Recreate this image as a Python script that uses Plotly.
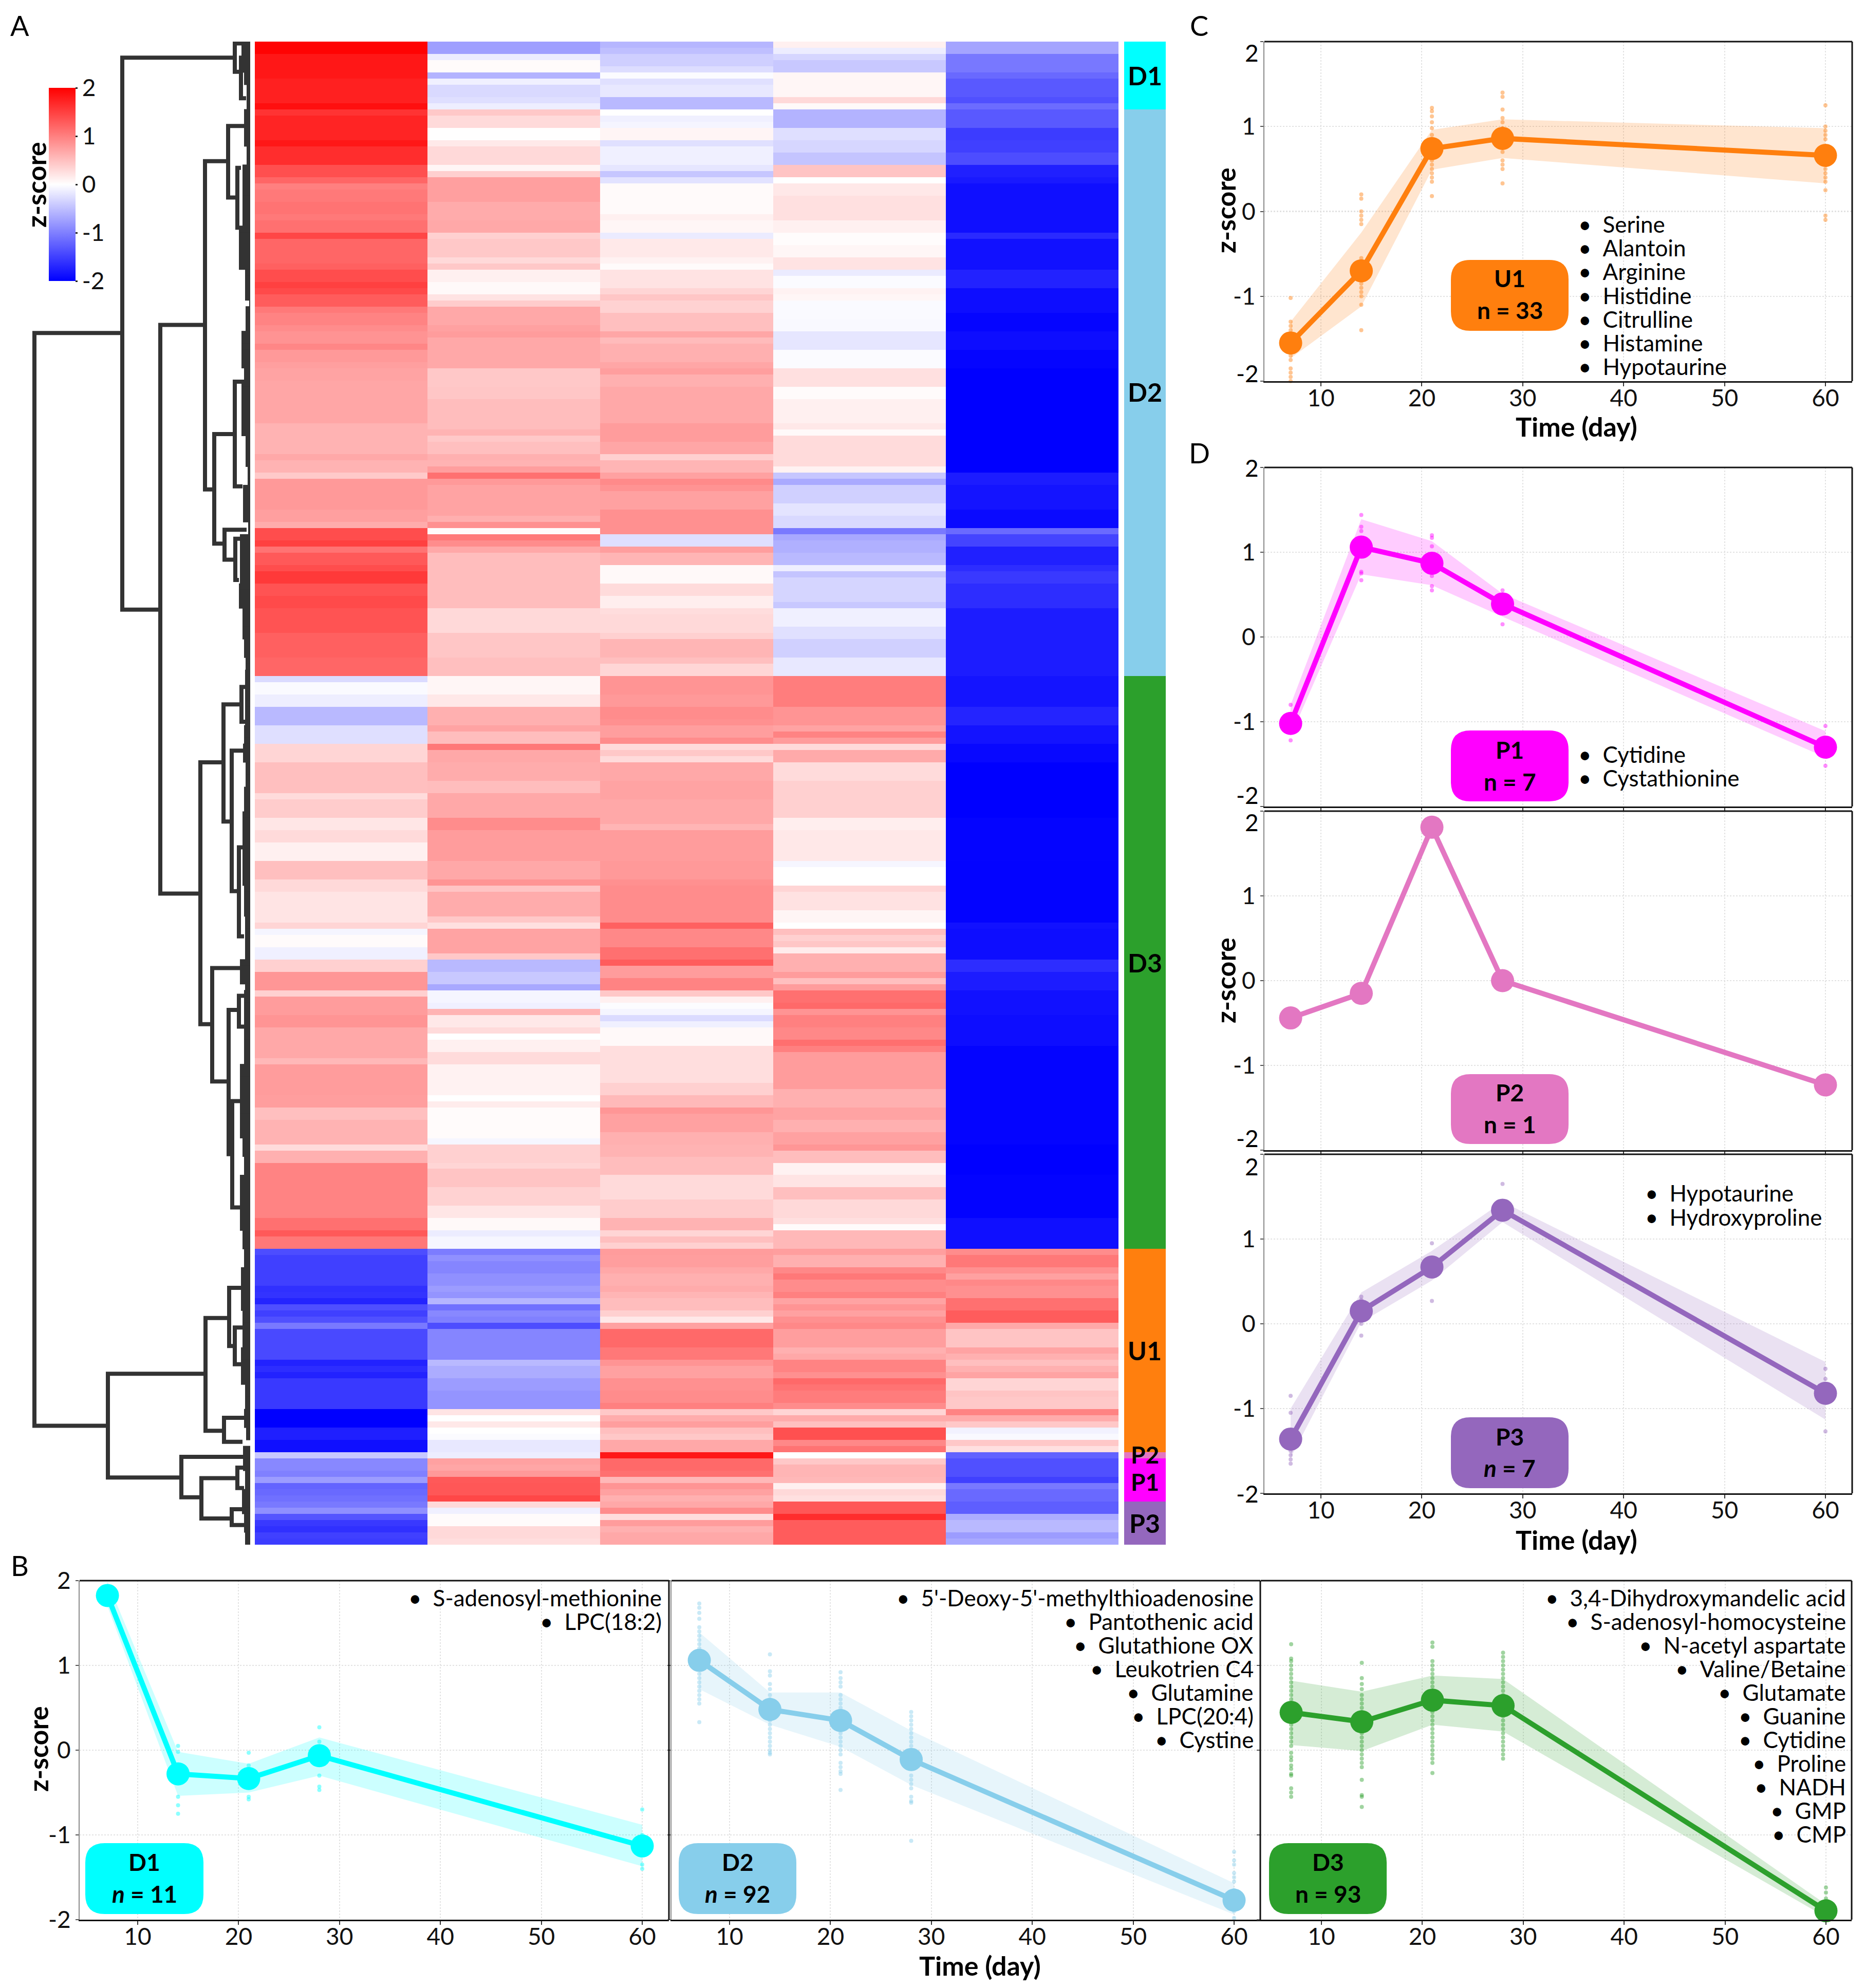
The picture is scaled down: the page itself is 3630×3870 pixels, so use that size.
import plotly.graph_objects as go

W, H = 3630, 3870
FONT = "Lato"

# ---------- heatmap values: runs of (number of rows, z-score), per cluster and time point ----------
CLUSTER_NAMES = ["D1", "D2", "D3", "U1", "P2", "P1", "P3"]
CLUSTER_SIZES = [11, 92, 93, 33, 1, 7, 7]
CLUSTER_COLORS = ["#00FFFF", "#87CEEB", "#2CA02C", "#FF7F0E", "#E377C2", "#FF00FF", "#9467BD"]

d7_D1 = [(2,1.98),(4,1.82),(4,1.75),(1,1.88)]
d14_D1 = [(2,-.75),(1,-.15),(2,.03),(1,-.6),(1,-.12),(2,-.3),(1,-.25),(1,-.13)]
d21_D1 = [(1,-.57),(1,-.5),(2,-.38),(1,-.27),(1,-.03),(1,-.24),(2,-.18),(2,-.55)]
d28_D1 = [(1,.12),(1,-.14),(1,-.32),(2,-.43),(4,.07),(1,.3),(1,.05)]
d60_D1 = [(2,-.71),(3,-1.06),(1,-1.18),(3,-1.3),(1,-1.37),(1,-1.15)]

d7_D2 = [(1,1.6),(4,1.72),(1,1.82),(3,1.65),(2,1.38),(1,1.2),(1,1.0),(2,1.05),(2,1.1),(1,1.05),(2,1.12),(1,1.45),(3,1.2),(1,1.2),(1,1.25),(2,1.4),(1,1.5),(1,1.42),(2,1.28),(1,1.05),(2,.97),(1,.9),(2,.85),(1,.95),(2,.8),(1,.75),(2,.72),(7,.7),(5,.6),(1,.68),(2,.6),(1,.42),(5,.8),(2,.75),(1,.65),(2,1.4),(1,1.5),(1,1.1),(2,1.3),(1,1.4),(2,1.55),(2,1.35),(2,1.42),(4,1.35),(4,1.25),(3,1.2)]
d14_D2 = [(1,.43),(2,.29),(2,.01),(1,.17),(3,.3),(1,.08),(1,.38),(4,.75),(3,.66),(2,.68),(1,.37),(3,.43),(1,.3),(1,.43),(2,.12),(2,.05),(1,.22),(1,.4),(3,.68),(1,.74),(1,.78),(5,.68),(3,.43),(2,.45),(5,.52),(1,.6),(1,.43),(2,.5),(1,.62),(1,.6),(1,.76),(1,1.12),(1,.8),(5,.72),(1,.63),(1,.87),(1,.03),(1,1.05),(1,.9),(1,.68),(9,.52),(4,.3),(4,.45),(3,.5)]
d21_D2 = [(1,0),(1,-.12),(1,-.08),(2,.08),(1,-.24),(3,-.12),(1,-.2),(1,-.45),(1,-.23),(5,.04),(1,.12),(2,.07),(1,-.16),(3,.17),(1,.1),(1,.03),(3,.22),(1,.33),(1,.45),(2,.35),(3,.5),(1,.7),(1,.53),(3,.62),(1,.7),(1,.76),(2,.62),(6,.68),(3,.78),(2,.7),(1,.37),(2,.58),(1,.74),(1,.92),(1,.85),(3,.74),(1,.87),(3,.87),(2,-.25),(1,.76),(2,.58),(3,.05),(2,.28),(2,.13),(1,.27),(3,.3),(1,.37),(3,.58),(1,.5),(2,.32)]
d28_D2 = [(3,-.6),(2,-.25),(2,-.32),(2,-.46),(2,.46),(1,0),(2,.18),(4,.24),(2,.12),(2,.02),(2,.07),(2,.22),(1,-.16),(2,-.03),(1,.1),(1,.07),(3,-.04),(2,-.05),(3,-.2),(3,-.03),(3,.24),(2,.03),(4,.12),(1,.18),(1,.05),(5,.28),(1,.1),(1,-.45),(1,-.67),(3,-.37),(2,-.21),(2,-.3),(1,-1.05),(1,-.68),(2,-.62),(2,-.55),(1,-.13),(1,-.46),(4,-.33),(1,-.43),(3,-.12),(2,-.24),(3,-.37),(3,-.18)]
d60_D2 = [(3,-1.3),(2,-1.53),(2,-1.5),(2,-1.4),(2,-1.75),(1,-1.8),(8,-1.88),(1,-1.67),(5,-1.87),(3,-1.73),(4,-1.9),(3,-1.96),(3,-1.9),(3,-1.96),(17,-2),(2,-1.78),(4,-1.84),(3,-1.92),(1,-1.17),(2,-1.47),(3,-1.75),(1,-1.65),(2,-1.55),(4,-1.65),(11,-1.78)]

d7_D3 = [(1,-.28),(2,-.04),(2,-.13),(3,-.55),(3,-.25),(3,.33),(5,.5),(1,.28),(3,.4),(2,.2),(2,.29),(3,.12),(3,.5),(2,.3),(5,.21),(1,.33),(1,-.08),(2,.03),(2,-.12),(2,.37),(3,.82),(1,.37),(3,.78),(2,.84),(5,.68),(1,.56),(5,.78),(2,.76),(2,.5),(4,.6),(1,.28),(2,.62),(9,.97),(2,1.12),(1,1.3),(2,1.06)]
d14_D3 = [(3,.07),(2,.18),(3,.62),(1,.72),(2,.52),(1,1.06),(2,.68),(3,.65),(2,.52),(4,.68),(2,.9),(5,.78),(3,.68),(1,.84),(1,.46),(4,.65),(1,.43),(1,.24),(4,.72),(1,.43),(2,-.55),(2,-.43),(1,-.68),(2,-.08),(1,-.12),(1,.6),(2,.18),(1,.28),(1,0),(2,.12),(2,.28),(5,.1),(1,0),(1,.15),(5,.03),(1,-.07),(3,.37),(1,.33),(3,.46),(3,.35),(2,.2),(2,.05),(1,-.15),(2,-.07)]
d21_D3 = [(3,.84),(2,.8),(2,.9),(1,.87),(2,.76),(1,.9),(1,.29),(1,.43),(1,.28),(3,.68),(3,.72),(4,.68),(1,.58),(5,.78),(3,.8),(1,.87),(6,.9),(1,1.25),(3,.93),(2,1.12),(1,1.28),(2,.78),(2,.97),(1,.43),(1,.12),(1,-.02),(1,-.08),(1,-.28),(1,-.12),(3,.05),(6,.26),(2,.37),(2,.55),(1,.82),(3,.74),(2,.62),(2,.6),(3,.52),(4,.29),(3,.4),(2,.6),(1,.33),(1,.5),(1,.37)]
d28_D3 = [(5,1.02),(3,.84),(1,.72),(1,.97),(1,.78),(1,.29),(2,.67),(3,.28),(6,.37),(2,.13),(5,.18),(1,-.07),(3,0),(1,.33),(3,.23),(2,.08),(1,0),(1,.5),(1,.37),(1,.45),(1,.15),(3,.62),(1,.78),(1,.5),(1,.78),(2,1.12),(1,1.18),(1,.84),(2,1.0),(2,.93),(1,1.13),(1,1.0),(6,.78),(3,.62),(2,.72),(2,.62),(2,.74),(1,.82),(2,.52),(2,.1),(2,.21),(2,.5),(3,.3),(1,.25),(1,.03),(3,.56)]
d60_D3 = [(5,-1.84),(3,-1.72),(3,-1.85),(3,-1.94),(9,-2),(7,-1.97),(10,-1.98),(1,-1.87),(5,-1.9),(2,-1.65),(3,-1.78),(4,-1.87),(5,-1.9),(16,-1.97),(5,-2),(7,-1.98),(5,-1.88)]

d7_U1 = [(1,-1.4),(2,-1.5),(3,-1.5),(1,-1.62),(1,-1.6),(1,-1.72),(1,-1.38),(1,-1.5),(1,-1.37),(1,-1.05),(5,-1.43),(1,-1.73),(1,-1.65),(1,-1.73),(5,-1.55),(3,-2),(2,-1.76),(2,-1.88)]
d14_U1 = [(1,-1.03),(1,-.87),(1,-.96),(1,-.96),(2,-.87),(1,-.78),(1,-.84),(1,-.58),(1,-1.12),(1,-.93),(1,-1),(1,-1.4),(5,-.96),(1,-.55),(2,-.65),(2,-.78),(3,-.84),(1,.21),(1,0),(1,.18),(1,0),(1,-.03),(2,-.18)]
d21_U1 = [(1,.78),(2,.76),(1,.68),(2,.62),(1,.66),(1,.58),(2,.52),(1,.37),(1,.18),(1,.74),(3,1.18),(2,1.06),(1,.84),(2,.74),(2,.87),(2,.9),(1,1),(1,.43),(1,.65),(1,.76),(1,.5),(1,.43),(2,.68)]
d28_U1 = [(1,.76),(2,.62),(1,.93),(1,1.06),(2,.9),(1,1),(1,.72),(1,.84),(1,.74),(1,.87),(1,.93),(3,.76),(1,.62),(1,.68),(2,.97),(1,.87),(1,1.18),(1,1.1),(2,1.03),(1,.9),(1,.33),(1,.66),(1,.5),(2,1.37),(1,.93),(1,1.1)]
d60_U1 = [(1,.9),(2,1.06),(1,.87),(1,.74),(1,.93),(2,.87),(2,1.12),(2,1.28),(1,.68),(3,.46),(1,.72),(1,.62),(1,.5),(1,.62),(1,.72),(2,.33),(1,.46),(2,.43),(1,.97),(1,.66),(1,.43),(1,-.1),(1,-.05),(1,.43),(1,.24)]

d7_P2, d14_P2, d21_P2, d28_P2, d60_P2 = [(1,-.43)], [(1,-.14)], [(1,1.81)], [(1,0)], [(1,-1.23)]

d7_P1 = [(2,-.93),(1,-1),(1,-.78),(1,-1.22),(1,-1.18),(1,-1.12)]
d14_P1 = [(1,.74),(1,.7),(1,.8),(1,1.3),(2,1.32),(1,1.44)]
d21_P1 = [(2,1.18),(1,1.12),(1,.56),(1,.84),(1,.74),(1,.62)]
d28_P1 = [(1,.43),(2,.58),(1,.56),(1,.12),(1,.3),(1,.24)]
d60_P1 = [(3,-1.37),(1,-1.5),(1,-1.05),(2,-1.18)]

d7_P3 = [(1,-1.05),(1,-.87),(1,-1.33),(1,-1.55),(1,-1.62),(1,-1.5),(1,-1.53)]
d14_P3 = [(1,.3),(1,-.12),(2,.03),(2,.3),(1,.26)]
d21_P3 = [(1,.68),(1,.9),(1,.27),(1,.78),(1,.62),(2,.68)]
d28_P3 = [(2,1.32),(1,1.65),(4,1.28)]
d60_P3 = [(2,-1.26),(1,-.65),(2,-.55),(1,-.78),(1,-.68)]

# ---------- dendrogram: (height, row of child a, height of a, row of child b, height of b) ----------
MERGES = [
 (420,47.3,249,224.7,277),(249,2.6,30,92.2,175),(175,46,88,138.3,97),(88,19.4,43,72.7,70),
 (43,13.7,12,25.3,25),(25,20.5,18,30.2,15),(70,63.7,30,81.5,50),(30,55.2,12,72.2,15),
 (50,79.25,7,84.1,29),(29,80.7,17,87.4,22),(97,117,52,159.5,74),(52,107.6,17,126.6,36),
 (17,104.75,10,110.4,10),(36,115.1,10,137.9,22),(22,130.8,15,145.25,12),(74,150.4,14,168.8,42),
 (42,157.2,22,180.6,35),(22,154.9,10,159.9,12),(35,172,17,189.25,17),(277,216.25,87,233.1,134),
 (87,207.2,41,225.5,51),(41,202.3,15,211.75,30),(30,208.75,9,214.7,15),(51,223.4,12,227.3,15),
 (134,229.75,0,236.3,95),(95,233.2,25,239.75,36),(25,231.5,10,234.8,12),(36,238.25,10,240.8,12),
 (30,.3,6,4.9,18),(18,2.6,8,9.2,8),
]
# height of the branch reaching each leaf row: runs of (rows, height)
LEAF_RUNS = [(5,17),(2,12),(4,7),(6,12),(3,7),(4,15),(6,15),(7,22),(5,10),(1,2),(4,9),(6,17),(2,12),(9,17),(5,9),(3,5),(6,14),(2,4),(8,20),(4,22),(5,15),(3,12),(2,9),(9,10),(3,12),(3,14),(4,9),(4,12),(7,15),(5,15),(5,12),(7,10),(4,20),(1,10),(3,12),(6,12),(3,12),(12,20),(3,15),(3,12),(9,20),(3,15),(3,12),(2,18),(5,18),(6,15),(6,18),(4,10),(3,12),(2,8),(1,0),(4,14),(3,10),(4,16),(3,12),(4,10)]

# ---------- line panels ----------
DAYS = [7, 14, 21, 28, 60]
TICKS_X = [10, 20, 30, 40, 50, 60]
TICKS_Y = [-2, -1, 0, 1, 2]

mean_D1 = [1.825, -.28, -.335, -.065, -1.13]
up_D1 = [1.99, -.02, -.16, .15, -.88]
lo_D1 = [1.7, -.54, -.5, -.3, -1.37]
pts_D1 = [[1.82], [.05,-.02,-.55,-.65,-.75], [-.03,-.18,-.58,-.55], [.27,.1,-.3,-.43,-.47], [-.7,-1.0,-1.1,-1.2,-1.35,-1.4]]

mean_D2 = [1.06, .48, .35, -.11, -1.77]
up_D2 = [1.39, .68, .68, .23, -1.57]
lo_D2 = [.72, .30, .04, -.41, -1.94]
pts_D2 = [[1.73,1.68,1.62,1.55,1.45,1.4,1.35,1.3,1.25,1.2,1.15,1.1,1.05,1.0,.95,.9,.85,.8,.75,.7,.65,.6,.55,.33],
          [1.13,.93,.88,.78,.72,.65,.6,.55,.5,.4,.35,.3,.25,.2,.15,.1,.05,0,-.03,-.05],
          [.92,.85,.8,.75,.65,.6,.55,.5,.45,.4,.3,.25,.2,.15,.1,.05,0,-.05,-.15,-.2,-.25,-.28,-.47],
          [.45,.4,.35,.3,.25,.2,.15,.1,.05,0,-.05,-.1,-.2,-.3,-.35,-.4,-.45,-.55,-.6,-.62,-1.07],
          [-1.2,-1.3,-1.35,-1.45,-1.5,-1.55,-1.65,-1.7,-1.85,-1.9,-1.98]]

mean_D3 = [.445, .335, .59, .525, -1.895]
up_D3 = [.82, .69, .88, .84, -1.82]
lo_D3 = [.06, -.01, .3, .22, -1.97]
pts_D3 = [[1.25,1.08,1.05,1.0,.95,.9,.85,.8,.75,.7,.65,.6,.55,.5,.45,.4,.35,.3,.25,.2,.15,.1,.05,-.03,-.08,-.12,-.18,-.22,-.28,-.3,-.45,-.5,-.55],
          [1.03,.85,.78,.72,.65,.6,.55,.5,.45,.4,.35,.3,.25,.2,.15,.1,.05,0,-.05,-.1,-.15,-.2,-.35,-.53,-.55,-.67],
          [1.27,1.22,1.05,1.0,.95,.9,.85,.8,.75,.7,.65,.6,.55,.5,.45,.4,.35,.3,.25,.2,.15,.1,.05,0,-.05,-.1,-.15,-.27],
          [1.15,1.1,1.05,1.0,.95,.9,.85,.8,.75,.7,.65,.6,.55,.5,.45,.4,.35,.3,.25,.2,.15,.1,.05,0,-.05,-.1],
          [-1.62,-1.68,-1.75,-1.8,-1.85,-1.97]]

mean_U1 = [-1.55, -.70, .74, .86, .66]
up_U1 = [-1.3, -.25, .96, 1.085, .98]
lo_U1 = [-1.73, -1.12, .49, .63, .33]
pts_U1 = [[-1.02,-1.3,-1.35,-1.4,-1.45,-1.5,-1.6,-1.65,-1.7,-1.75,-1.85,-1.9,-1.95,-2.0],
          [.2,.15,0,-.05,-.1,-.15,-.55,-.65,-.75,-.8,-.85,-.9,-.95,-1.0,-1.1,-1.4],
          [1.22,1.18,1.12,1.05,.98,.9,.85,.8,.7,.65,.6,.55,.5,.45,.4,.35,.18],
          [1.4,1.35,1.2,1.1,1.05,.98,.9,.8,.75,.7,.6,.55,.5,.33],
          [1.25,1.0,.95,.9,.85,.75,.6,.55,.5,.45,.4,.35,.25,-.05,-.1]]

mean_P1 = [-1.02, 1.06, .87, .39, -1.30]
up_P1 = [-.8, 1.39, 1.13, .51, -1.11]
lo_P1 = [-1.17, .74, .61, .24, -1.42]
pts_P1 = [[-.8,-1.22], [1.44,1.3,1.25,.77,.75,.67], [1.2,1.17,1.07,.72,.6,.55], [.55,.15], [-1.05,-1.52]]

mean_P2 = [-.44, -.15, 1.81, 0, -1.23]

mean_P3 = [-1.36, .15, .67, 1.34, -.82]
up_P3 = [-1.0, .37, .86, 1.44, -.45]
lo_P3 = [-1.58, .02, .51, 1.2, -1.13]
pts_P3 = [[-.85,-1.05,-1.5,-1.55,-1.6,-1.65], [.32,.28,0,-.14], [.95,.27], [1.65], [-.53,-.65,-1.27]]

names_D1 = ["S-adenosyl-methionine", "LPC(18:2)"]
names_D2 = ["5'-Deoxy-5'-methylthioadenosine", "Pantothenic acid", "Glutathione OX", "Leukotrien C4", "Glutamine", "LPC(20:4)", "Cystine"]
names_D3 = ["3,4-Dihydroxymandelic acid", "S-adenosyl-homocysteine", "N-acetyl aspartate", "Valine/Betaine", "Glutamate", "Guanine", "Cytidine", "Proline", "NADH", "GMP", "CMP"]
names_U1 = ["Serine", "Alantoin", "Arginine", "Histidine", "Citrulline", "Histamine", "Hypotaurine"]
names_P1 = ["Cytidine", "Cystathionine"]
names_P3 = ["Hypotaurine", "Hydroxyproline"]


def expand(runs, n):
    out = []
    for count, val in runs:
        out += [val] * count
    out = out[:n]
    return out + [out[-1]] * (n - len(out))


def hexa(c, a):
    c = c.lstrip("#")
    return f"rgba({int(c[:2],16)},{int(c[2:4],16)},{int(c[4:],16)},{a})"


def dx(a, b):
    return [a / W, b / W]


def dy(top, bottom):
    return [1 - bottom / H, 1 - top / H]


def px(x):
    return x / W


def py(y):
    return 1 - y / H


g = globals()
DAY_KEYS = ["d7", "d14", "d21", "d28", "d60"]
columns = []
for d in DAY_KEYS:
    col = []
    for name, size in zip(CLUSTER_NAMES, CLUSTER_SIZES):
        col += expand(g[f"{d}_{name}"], size)
    columns.append(col)
n_rows = sum(CLUSTER_SIZES)
z = [[columns[c][r] for c in range(5)] for r in range(n_rows)]
rows = [r + .5 for r in range(n_rows)]
cluster_idx = []
for i, size in enumerate(CLUSTER_SIZES):
    cluster_idx += [i] * size

fig = go.Figure()
shapes, annotations = [], []
layout = {}

TOP, BOT = 81, 3007
DENDRO_LINE = "#333333"

# dendrogram
xs, ys = [], []
for h, ra, ha, rb, hb in MERGES:
    xs += [ha, h, h, hb, None]
    ys += [ra, ra, rb, rb, None]
fig.add_trace(go.Scatter(x=xs, y=ys, mode="lines", line=dict(color=DENDRO_LINE, width=8), hoverinfo="skip",
                         showlegend=False, xaxis="x", yaxis="y"))
lx, ly = [], []
for r, h in zip(rows, expand(LEAF_RUNS, n_rows)):
    lx += [h, 0, None]
    ly += [r, r, None]
fig.add_trace(go.Scatter(x=lx, y=ly, mode="lines", line=dict(color=DENDRO_LINE, width=13), hoverinfo="skip",
                         showlegend=False, xaxis="x", yaxis="y"))
blank = dict(visible=False, fixedrange=True)
layout["xaxis"] = dict(domain=dx(60, 490), range=[427, -3], anchor="y", **blank)
layout["yaxis"] = dict(domain=dy(TOP, BOT), range=[n_rows, 0], anchor="x", **blank)

# heatmap
fig.add_trace(go.Heatmap(
    z=z, x=list(range(5)), y=rows, zmin=-2, zmax=2, zsmooth=False,
    colorscale=[[0, "#0000FF"], [.5, "#FFFFFF"], [1, "#FF0000"]], xaxis="x2", yaxis="y2",
    colorbar=dict(x=px(95), xanchor="left", xpad=0, ypad=0, y=py(359), yanchor="middle", thickness=52,
                  thicknessmode="pixels", len=376 / H, lenmode="fraction", outlinewidth=0, ticks="outside",
                  ticklen=4, tickwidth=3, tickcolor="#222222", tickvals=TICKS_Y, ticktext=[str(t) for t in TICKS_Y],
                  tickfont=dict(family=FONT, size=46, color="#111111")),
))
layout["xaxis2"] = dict(domain=dx(496, 2177), range=[-.5, 4.5], anchor="y2", **blank)
layout["yaxis2"] = dict(domain=dy(TOP, BOT), range=[n_rows, 0], anchor="x2", **blank)

# cluster bar
stops = []
nc = len(CLUSTER_COLORS)
for i, c in enumerate(CLUSTER_COLORS):
    stops += [[i / nc, c], [(i + 1) / nc, c]]
fig.add_trace(go.Heatmap(z=[[i] for i in cluster_idx], x=[0], y=rows, zmin=-.5, zmax=nc - .5, zsmooth=False,
                         colorscale=stops, showscale=False, xaxis="x3", yaxis="y3"))
layout["xaxis3"] = dict(domain=dx(2188, 2269), range=[-.5, .5], anchor="y3", **blank)
layout["yaxis3"] = dict(domain=dy(TOP, BOT), range=[n_rows, 0], anchor="x3", **blank)


def txt(x, y, text, size=44, bold=False, xanchor="center", yanchor="middle", angle=0):
    annotations.append(dict(x=px(x), y=py(y), xref="paper", yref="paper", text=f"<b>{text}</b>" if bold else text,
                            showarrow=False, xanchor=xanchor, yanchor=yanchor, textangle=angle,
                            font=dict(family=FONT, size=size, color="#000000")))


def box(x0, y0, x1, y1, color, r=38):
    X0, X1, Y0, Y1 = px(x0), px(x1), py(y0), py(y1)
    rx, ry = r / W, r / H
    path = (f"M {X0+rx} {Y0} L {X1-rx} {Y0} Q {X1} {Y0} {X1} {Y0-ry} L {X1} {Y1+ry} Q {X1} {Y1} {X1-rx} {Y1} "
            f"L {X0+rx} {Y1} Q {X0} {Y1} {X0} {Y1+ry} L {X0} {Y0-ry} Q {X0} {Y0} {X0+rx} {Y0} Z")
    shapes.append(dict(type="path", path=path, xref="paper", yref="paper", fillcolor=color,
                       line=dict(width=0), layer="above"))


def panel(idx, left, right, top, bottom, color, mean, up, lo, pts, show_x, show_y, moved_ends):
    xa, ya = f"x{idx}", f"y{idx}"
    if up is not None:
        fig.add_trace(go.Scatter(x=DAYS + DAYS[::-1], y=up + lo[::-1], fill="toself", mode="lines",
                                 line=dict(width=0), fillcolor=hexa(color, .2), hoverinfo="skip",
                                 showlegend=False, xaxis=xa, yaxis=ya))
        dot_x, dot_y = [], []
        for d, vals in zip(DAYS, pts):
            dot_x += [d] * len(vals)
            dot_y += vals
        fig.add_trace(go.Scatter(x=dot_x, y=dot_y, mode="markers", marker=dict(color=hexa(color, .45), size=8),
                                 showlegend=False, xaxis=xa, yaxis=ya, cliponaxis=False))
    fig.add_trace(go.Scatter(x=DAYS, y=mean, mode="lines+markers", line=dict(color=color, width=10),
                             marker=dict(color=color, size=45), showlegend=False, xaxis=xa, yaxis=ya, cliponaxis=False))
    grid = dict(showgrid=True, gridcolor="#E2E2E2", gridwidth=2, griddash="dot", zeroline=False, fixedrange=True)
    tickf = dict(family=FONT, size=46, color="#111111")
    # the outermost y labels sit inside the axis ends in panels C and D, so they are placed separately
    ylabels = [("" if (moved_ends and abs(t) == 2) else str(t)) for t in TICKS_Y]
    layout[f"xaxis{idx}"] = dict(
        domain=dx(left, right), range=[(left - TICK10[left]) / PX_DAY + 10, (right - TICK10[left]) / PX_DAY + 10],
        anchor=ya, tickvals=TICKS_X, ticktext=[str(t) for t in TICKS_X], showticklabels=show_x, ticks="outside",
        ticklen=7, tickwidth=2, tickcolor="#333333", showline=True, linecolor="#111111", linewidth=3, tickfont=tickf,
        ticklabelstandoff=-16, **grid)
    layout[f"yaxis{idx}"] = dict(
        domain=dy(top, bottom), range=[-2, 2], anchor=xa, tickvals=TICKS_Y, ticktext=ylabels,
        showticklabels=show_y, ticks="outside", ticklen=6, tickwidth=2, tickcolor="#555555", showline=True,
        linecolor="#8A8A8A", linewidth=2, tickfont=tickf, **grid)
    ref_x, ref_y = f"x{idx} domain", f"y{idx} domain"
    shapes.append(dict(type="line", xref=ref_x, yref=ref_y, x0=0, x1=1, y0=1, y1=1, line=dict(color="#111111", width=3)))
    shapes.append(dict(type="line", xref=ref_x, yref=ref_y, x0=1, x1=1, y0=0, y1=1, line=dict(color="#111111", width=3)))
    shapes.append(dict(type="line", xref=ref_x, yref=ya, x0=0, x1=1, y0=0, y1=0,
                       line=dict(color="#C4C4C4", width=2, dash="dot"), layer="below"))


PX_DAY = 19.64
TICK10 = {155: 268, 1307: 1420, 2454: 2572, 2461: 2571}

B_TOP, B_BOT = 3077, 3737
panel(4, 155, 1302, B_TOP, B_BOT, CLUSTER_COLORS[0], mean_D1, up_D1, lo_D1, pts_D1, True, True, False)
panel(5, 1307, 2453, B_TOP, B_BOT, CLUSTER_COLORS[1], mean_D2, up_D2, lo_D2, pts_D2, True, False, False)
panel(6, 2454, 3604, B_TOP, B_BOT, CLUSTER_COLORS[2], mean_D3, up_D3, lo_D3, pts_D3, True, False, False)
panel(7, 2461, 3605, 81, 742, CLUSTER_COLORS[3], mean_U1, up_U1, lo_U1, pts_U1, True, True, True)
panel(8, 2461, 3605, 910, 1570, CLUSTER_COLORS[5], mean_P1, up_P1, lo_P1, pts_P1, False, True, True)
panel(9, 2461, 3605, 1579, 2239, CLUSTER_COLORS[4], mean_P2, None, None, None, False, True, True)
panel(10, 2461, 3605, 2247, 2907, CLUSTER_COLORS[6], mean_P3, up_P3, lo_P3, pts_P3, True, True, True)

# outermost y labels of panels C and D
for y_top, y_bot in [(103, 726), (910, 1547), (1601, 2215), (2270, 2907)]:
    txt(2452, y_top, "2", size=46, xanchor="right")
    txt(2452, y_bot, "-2", size=46, xanchor="right")

# axis titles
for x, y in [(74, 3405), (2385, 410), (2385, 1909)]:
    txt(x, y, "z-score", size=52, bold=True, angle=-90)
for x, y in [(1907, 3826), (3068, 830), (3068, 2997)]:
    txt(x, y, "Time (day)", size=52, bold=True)

# cluster labels on the bar
for name, y, size in zip(CLUSTER_NAMES, [147, 763, 1874, 2629, 2831, 2884, 2965], [50, 50, 50, 50, 46, 46, 50]):
    txt(2228, y, name, size=size, bold=True)

# panel letters
for tag, x, y in [("A", 38, 50), ("B", 38, 3047), ("C", 2334, 50), ("D", 2334, 881)]:
    txt(x, y, tag, size=54)

# colour-bar title
txt(70, 360, "z-score", size=52, bold=True, angle=-90)

# n boxes
for name, n, color, x0, y0, x1, y1, yt, yn, ital in [
    ("D1", 11, CLUSTER_COLORS[0], 166, 3588, 396, 3726, 3624, 3686, True),
    ("D2", 92, CLUSTER_COLORS[1], 1321, 3588, 1550, 3726, 3624, 3686, True),
    ("D3", 93, CLUSTER_COLORS[2], 2470, 3588, 2699, 3726, 3624, 3686, False),
    ("U1", 33, CLUSTER_COLORS[3], 2824, 506, 3053, 644, 542, 604, False),
    ("P1", 7, CLUSTER_COLORS[5], 2824, 1422, 3053, 1560, 1459, 1521, False),
    ("P2", 1, CLUSTER_COLORS[4], 2824, 2091, 3053, 2227, 2126, 2188, False),
    ("P3", 7, CLUSTER_COLORS[6], 2824, 2759, 3053, 2897, 2796, 2857, True),
]:
    box(x0, y0, x1, y1, color)
    txt((x0 + x1) / 2, yt, name, size=46, bold=True)
    txt((x0 + x1) / 2, yn, (f"<i>n</i> = {n}" if ital else f"n = {n}"), size=46, bold=True)

BULLET = "\u2022\u2002"
for names, right in [(names_D1, 1290), (names_D2, 2442), (names_D3, 3595)]:
    for i, nm in enumerate(names):
        txt(right, 3110 + i * 46, BULLET + nm, xanchor="right")
for names, left, y0, step in [(names_U1, 3070, 436, 46.2), (names_P1, 3070, 1468, 46), (names_P3, 3200, 2322, 47)]:
    for i, nm in enumerate(names):
        txt(left, y0 + i * step, BULLET + nm, xanchor="left")

fig.update_layout(width=W, height=H, margin=dict(l=0, r=0, t=0, b=0, autoexpand=False), paper_bgcolor="white",
                  plot_bgcolor="white", showlegend=False, shapes=shapes, annotations=annotations,
                  font=dict(family=FONT), **layout)
fig.write_html("out.html", config={"displayModeBar": False},
               post_script="document.body.style.margin='0';window.dispatchEvent(new Event('resize'));")
